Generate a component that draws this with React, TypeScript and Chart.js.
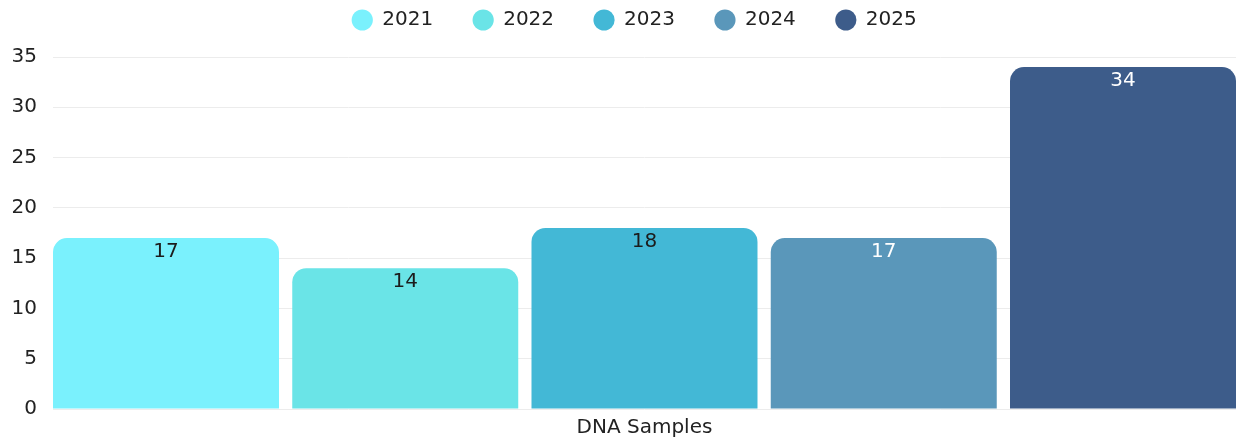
import React, { useEffect, useRef } from 'react';
import { Chart, registerables } from 'chart.js';

Chart.register(...registerables);

const categories = ['DNA Samples'];
const seriesNames = ['2021', '2022', '2023', '2024', '2025'];
const series2021 = [17];
const series2022 = [14];
const series2023 = [18];
const series2024 = [17];
const series2025 = [34];
const seriesValues = [series2021, series2022, series2023, series2024, series2025];
const seriesColors = ['#7AF1FD', '#6AE4E7', '#43B8D6', '#5A97BA', '#3D5C8A'];
const labelColors = ['#1c1c1c', '#1c1c1c', '#1c1c1c', '#ffffff', '#ffffff'];
const yMin = 0;
const yMax = 35;
const yStep = 5;

const FONT = '"DejaVu Sans", sans-serif';
const FONT_SIZE = 20;

const valueLabels = {
  id: 'valueLabels',
  afterDatasetsDraw(chart: any) {
    const ctx = chart.ctx;
    ctx.save();
    ctx.font = `${FONT_SIZE}px ${FONT}`;
    ctx.textAlign = 'center';
    ctx.textBaseline = 'middle';
    chart.data.datasets.forEach((ds: any, i: number) => {
      const meta = chart.getDatasetMeta(i);
      meta.data.forEach((bar: any, j: number) => {
        ctx.fillStyle = labelColors[i];
        ctx.fillText(String(ds.data[j]), bar.x, bar.y + 14);
      });
    });
    ctx.restore();
  },
};

const legendGap = {
  id: 'legendGap',
  beforeLayout(chart: any) {
    const lg = chart.legend;
    if (lg && !lg.__gapPatched) {
      lg.__gapPatched = true;
      const origFit = lg.fit;
      lg.fit = function () {
        origFit.call(this);
        this.height += 17;
      };
    }
  },
};

export default function App() {
  const ref = useRef<HTMLCanvasElement | null>(null);

  useEffect(() => {
    document.body.style.margin = '0';
    if (!ref.current) return;
    const n = seriesNames.length;
    const chart = new Chart(ref.current, {
      type: 'bar',
      data: {
        labels: categories,
        datasets: seriesNames.map((name, i) => ({
          label: name,
          data: seriesValues[i],
          backgroundColor: seriesColors[i],
          borderWidth: 0,
          borderRadius: 14,
          borderSkipped: 'start',
          categoryPercentage: 1.0112,
          barPercentage: 0.9446,
        })),
      },
      options: {
        responsive: true,
        maintainAspectRatio: false,
        animation: false,
        layout: { padding: { left: 12, right: 3, top: 0, bottom: 0 } },
        font: { family: FONT, size: FONT_SIZE },
        color: '#222222',
        plugins: {
          legend: {
            position: 'top',
            fullSize: false,
            labels: {
              usePointStyle: true,
              pointStyle: 'circle',
              boxWidth: 20,
              boxHeight: 15,
              padding: 10,
              color: '#222222',
              font: { family: FONT, size: FONT_SIZE },
              generateLabels(chart: any) {
                return chart.data.datasets.map((ds: any, i: number) => ({
                  text: ds.label + (i < n - 1 ? '\u2002\u2002\u2002' : '\u2002\u2002'),
                  fillStyle: ds.backgroundColor,
                  strokeStyle: ds.backgroundColor,
                  lineWidth: 0,
                  pointStyle: 'circle',
                  hidden: false,
                  datasetIndex: i,
                  fontColor: '#222222',
                }));
              },
            },
          },
          tooltip: { enabled: false },
        },
        scales: {
          x: {
            grid: { display: false, drawTicks: false },
            border: { display: false },
            ticks: { padding: 7, color: '#222222', font: { family: FONT, size: FONT_SIZE } },
            afterFit(scale: any) {
              scale.height = 31;
            },
          },
          y: {
            min: yMin,
            max: yMax,
            grid: { color: '#ececec', lineWidth: 1, drawTicks: false },
            border: { display: false },
            ticks: {
              stepSize: yStep,
              padding: 16,
              color: '#222222',
              font: { family: FONT, size: FONT_SIZE },
            },
            afterFit(scale: any) {
              scale.width = 41;
            },
          },
        },
      },
      plugins: [valueLabels, legendGap],
    });
    return () => chart.destroy();
  }, []);

  return (
    <div style={{ position: 'relative', width: '1239px', height: '440px' }}>
      <canvas ref={ref} />
    </div>
  );
}
